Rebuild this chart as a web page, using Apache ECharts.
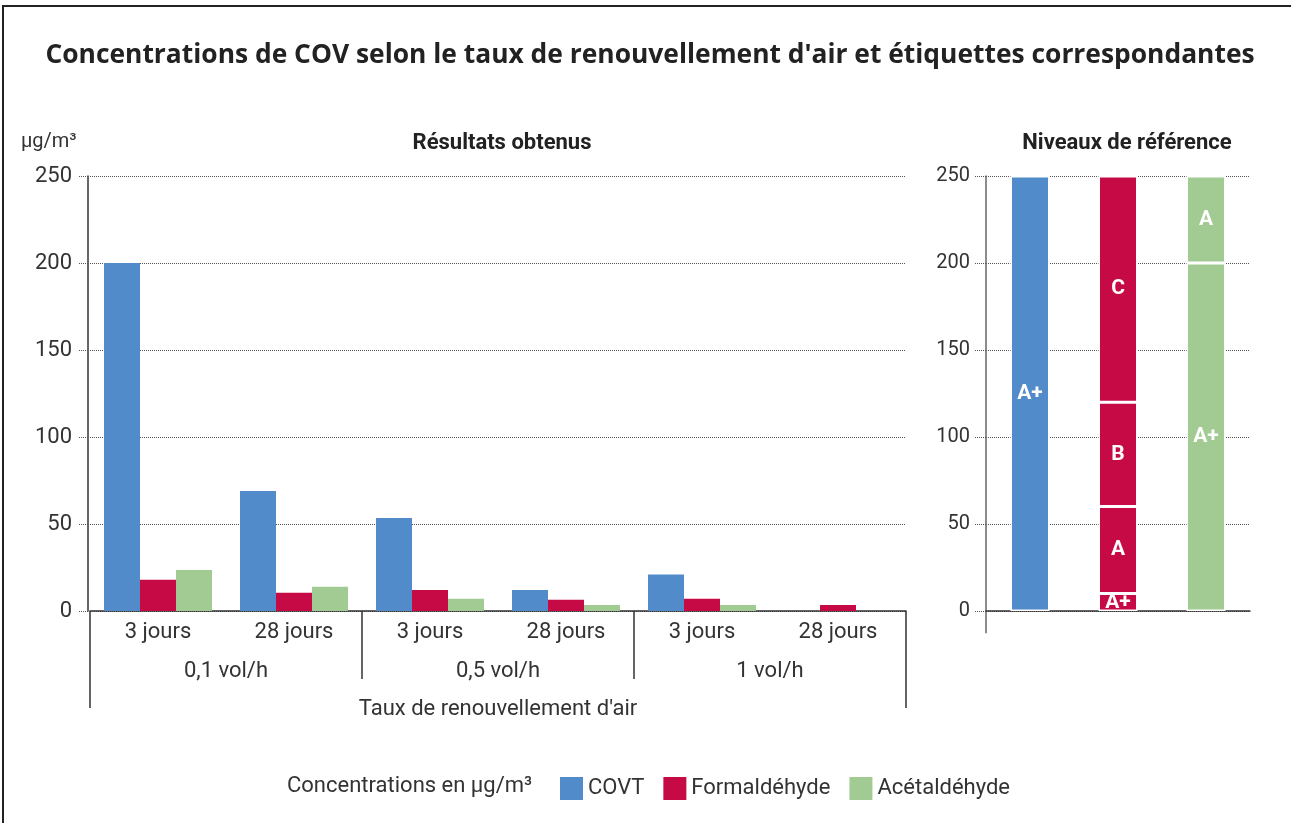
<!DOCTYPE html>
<html>
<head>
<meta charset="utf-8">
<script src="https://cdn.jsdelivr.net/npm/echarts@6/dist/echarts.min.js"></script>
<style>
  html, body { margin: 0; padding: 0; background: #fff; }
  #frame { position: absolute; left: 2px; top: 5px; width: 1400px; height: 900px;
           border-left: 2px solid #222; border-top: 2px solid #222; }
  #chart { position: absolute; left: 0; top: 0; width: 1291px; height: 823px; }
</style>
</head>
<body>
<div id="frame"></div>
<div id="chart"></div>
<script>
  // categories du graphique de gauche
  var days = ['3 jours', '28 jours', '3 jours', '28 jours', '3 jours', '28 jours']
  var rates = ['0,1 vol/h', '0,5 vol/h', '1 vol/h']
  var axisTitle = ["Taux de renouvellement d'air"]
  var seriesNames = ['COVT', 'Formaldéhyde', 'Acétaldéhyde']
  // valeurs en µg/m3
  var covt = [200, 69, 53.5, 12, 21, 0]
  var formaldehyde = [18, 10.5, 12, 6.5, 7, 3.5]
  var acetaldehyde = [23.5, 14, 7, 3.5, 3.5, 0]
  var yTicks = [0, 50, 100, 150, 200, 250]

  // niveaux de reference (bornes hautes de chaque classe)
  var refBounds = [[250], [10, 60, 120, 250], [200, 250]]
  var refGrades = [['A+'], ['A+', 'A', 'B', 'C'], ['A+', 'A']]

  var colors = ['#518BC9', '#C60A46', '#A2CB94']
  var textColor = '#333'
  var fontName = 'Roboto'

  function leftSeries() {
    var vals = [covt, formaldehyde, acetaldehyde]
    return vals.map(function (v, i) {
      return {
        type: 'bar',
        name: seriesNames[i],
        xAxisIndex: 0,
        yAxisIndex: 0,
        barWidth: 36,
        barGap: '0%',
        itemStyle: {color: colors[i]},
        data: v
      }
    })
  }

  function refSeries() {
    var maxLevels = 0
    refBounds.forEach(function (b) { maxLevels = Math.max(maxLevels, b.length) })
    var series = []
    for (var k = 0; k < maxLevels; k++) {
      var data = refBounds.map(function (b, i) {
        if (k >= b.length) return {value: '-'}
        var low = k > 0 ? b[k - 1] : 0
        return {value: b[k] - low, grade: refGrades[i][k], itemStyle: {color: colors[i]}}
      })
      series.push({
        type: 'bar',
        name: 'Niveau ' + (k + 1),
        stack: 'ref',
        xAxisIndex: 3,
        yAxisIndex: 1,
        barWidth: 39,
        itemStyle: {borderColor: '#fff', borderWidth: 1.5},
        label: {
          show: true,
          position: 'inside',
          color: '#fff',
          fontWeight: 'bold',
          fontSize: 21,
          fontFamily: fontName,
          formatter: function (p) { return p.data.grade || '' }
        },
        data: data
      })
    }
    return series
  }

  var chart = echarts.init(document.getElementById('chart'))
  chart.setOption({
    animation: false,
    textStyle: {fontFamily: fontName},
    title: [
      {
        text: "Concentrations de COV selon le taux de renouvellement d'air et étiquettes correspondantes",
        left: 650, top: 42, textAlign: 'center', padding: 0,
        textStyle: {fontSize: 26.4, fontWeight: 'bold', color: '#222', fontFamily: 'Open Sans'}
      },
      {
        text: 'Résultats obtenus', left: 497, top: 127, textAlign: 'center',
        textStyle: {fontSize: 22, fontWeight: 'bold', color: '#222', fontFamily: fontName}
      },
      {
        text: 'Niveaux de référence', left: 1122, top: 127, textAlign: 'center',
        textStyle: {fontSize: 22, fontWeight: 'bold', color: '#222', fontFamily: fontName}
      },
      {
        text: 'µg/m³', left: 16, top: 127,
        textStyle: {fontSize: 20, fontWeight: 'normal', color: textColor, fontFamily: fontName}
      },
      {
        text: 'Concentrations en µg/m³', left: 287, top: 775, padding: 0,
        textStyle: {fontSize: 22, fontWeight: 'normal', color: textColor, fontFamily: fontName}
      }
    ],
    legend: {
      data: seriesNames,
      left: 560, top: 777,
      padding: 0,
      icon: 'rect',
      itemWidth: 23, itemHeight: 23,
      itemGap: 19,
      selectedMode: false,
      textStyle: {fontSize: 22, color: textColor, fontFamily: fontName}
    },
    grid: [
      {left: 90, top: 176, width: 816, height: 435},
      {left: 986, top: 176, width: 264, height: 456.75}
    ],
    xAxis: [
      {
        type: 'category', gridIndex: 0, data: days, position: 'bottom',
        axisLine: {lineStyle: {color: textColor, width: 1.5}},
        axisTick: {show: false},
        axisLabel: {fontSize: 22, color: textColor, margin: 10, interval: 0}
      },
      {
        type: 'category', gridIndex: 0, data: rates, position: 'bottom',
        axisLine: {show: false},
        axisTick: {show: true, length: 68, lineStyle: {color: textColor, width: 1.5}},
        axisLabel: {fontSize: 22, color: textColor, margin: 49, interval: 0}
      },
      {
        type: 'category', gridIndex: 0, data: axisTitle, position: 'bottom',
        axisLine: {show: false},
        axisTick: {show: true, length: 97, lineStyle: {color: textColor, width: 1.5}},
        axisLabel: {fontSize: 22, color: textColor, margin: 87}
      },
      {
        type: 'category', gridIndex: 1, data: seriesNames,
        axisLine: {onZero: true, lineStyle: {color: textColor, width: 1.5}},
        axisTick: {show: false},
        axisLabel: {show: false}
      }
    ],
    yAxis: [
      {
        type: 'value', gridIndex: 0, min: 0, max: 250, interval: 50, offset: 2,
        axisLine: {show: true, lineStyle: {color: textColor, width: 1.5}},
        axisTick: {show: true, length: 10, lineStyle: {color: '#555', type: 'dotted'}},
        axisLabel: {fontSize: 22, color: textColor, margin: 16},
        splitLine: {lineStyle: {color: '#555', type: 'dotted', width: 1}}
      },
      {
        type: 'value', gridIndex: 1, min: -12.5, max: 250,
        axisLine: {show: true, lineStyle: {color: '#666', width: 1.5}},
        axisTick: {show: true, length: 12, customValues: yTicks, lineStyle: {color: '#555', type: 'dotted'}},
        axisLabel: {fontSize: 20, color: textColor, margin: 16, customValues: yTicks},
        splitLine: {lineStyle: {color: '#555', type: 'dotted', width: 1}}
      }
    ],
    series: leftSeries().concat(refSeries())
  })
</script>
</body>
</html>
